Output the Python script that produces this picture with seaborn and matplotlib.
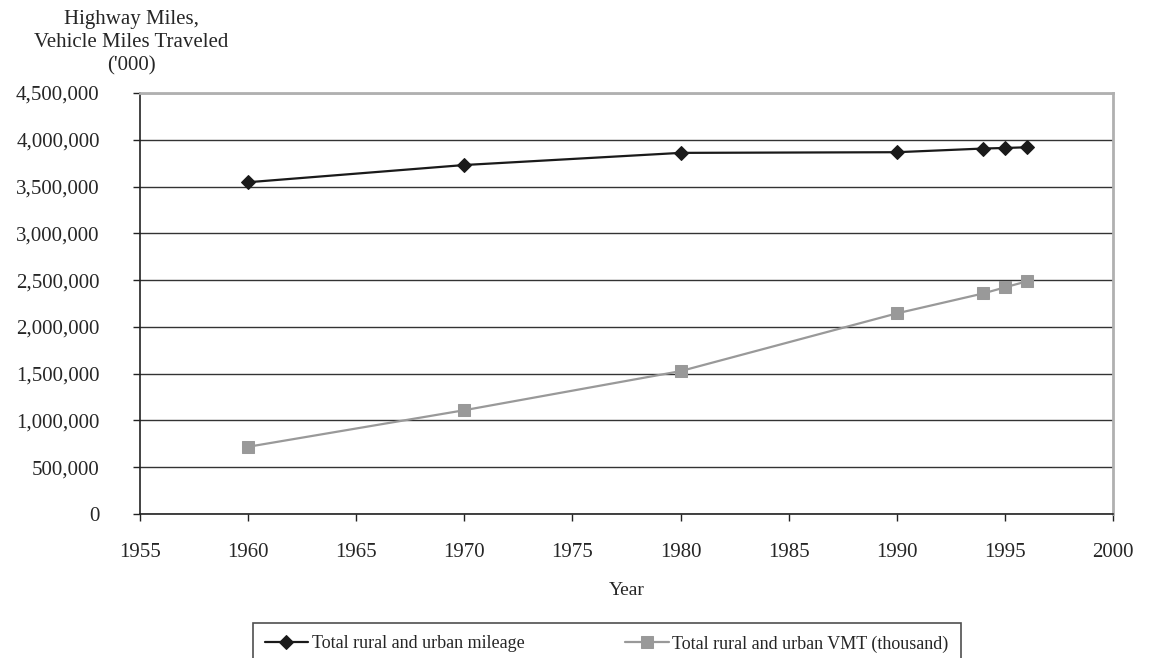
"""
Highway miles and vehicle miles traveled, 1960-1996
"""

import pandas as pd
import matplotlib.pyplot as plt
import seaborn as sns
from matplotlib.ticker import FuncFormatter

years = [1960, 1970, 1980, 1990, 1994, 1995, 1996]
mileage = [3545985, 3730082, 3859837, 3866926, 3906292, 3912226, 3919652]
vmt = [718762, 1109724, 1527295, 2144362, 2357588, 2422696, 2485848]

mileage_label = 'Total rural and urban mileage'
vmt_label = 'Total rural and urban VMT (thousand)'

sns.set_style("white")
plt.rcParams['font.family'] = ['Liberation Serif', 'DejaVu Serif']

df = pd.DataFrame({
    'Year': years * 2,
    'Value': mileage + vmt,
    'Series': [mileage_label] * len(years) + [vmt_label] * len(years),
})

fig = plt.figure(figsize=(11.61, 6.58), dpi=100)
ax = fig.add_axes([0.1206, 0.2188, 0.8381, 0.6399])

sns.lineplot(data=df, x='Year', y='Value', hue='Series', style='Series',
             palette={mileage_label: '#1a1a1a', vmt_label: '#999999'},
             markers={mileage_label: 'D', vmt_label: 's'},
             dashes=False, linewidth=1.6, ax=ax, legend=False)

# marker edges same as fill
lines = ax.get_lines()
for line in lines:
    line.set_markeredgecolor(line.get_color())
lines[0].set_markersize(7)
lines[1].set_markersize(8)

ax.set_xlim(1955, 2000)
ax.set_ylim(0, 4500000)
ax.set_xticks(range(1955, 2001, 5))
ax.set_yticks(range(0, 4500001, 500000))
ax.yaxis.set_major_formatter(FuncFormatter(lambda v, p: f'{int(v):,}'))

ax.grid(True, axis='y', color='#333333', linewidth=1)
ax.set_axisbelow(True)
for side in ['top', 'right']:
    ax.spines[side].set_color('#b0b0b0')
    ax.spines[side].set_linewidth(2)
for side in ['left', 'bottom']:
    ax.spines[side].set_color('#222222')
    ax.spines[side].set_linewidth(1.2)

ax.tick_params(axis='both', direction='out', length=5, width=1, color='#222222',
               labelsize=15, left=True, bottom=True)
ax.tick_params(axis='y', pad=24)
ax.tick_params(axis='x', pad=16)

ax.set_xlabel('Year', fontsize=14, labelpad=14)
ax.set_ylabel('')

fig.text(0.113, 0.985, "Highway Miles,\nVehicle Miles Traveled\n('000)",
         ha='center', va='top', fontsize=15, linespacing=1.3)

leg = fig.legend(lines[:2], [mileage_label, vmt_label], ncol=2,
                 loc='upper left', bbox_to_anchor=(0.2175, 0.053),
                 fontsize=13, frameon=True, fancybox=False,
                 edgecolor='#222222', handlelength=2.4, handletextpad=0.2,
                 columnspacing=5.6, borderpad=0.67, borderaxespad=0)
leg.get_frame().set_linewidth(1.2)

plt.savefig('out.png', dpi=100)
